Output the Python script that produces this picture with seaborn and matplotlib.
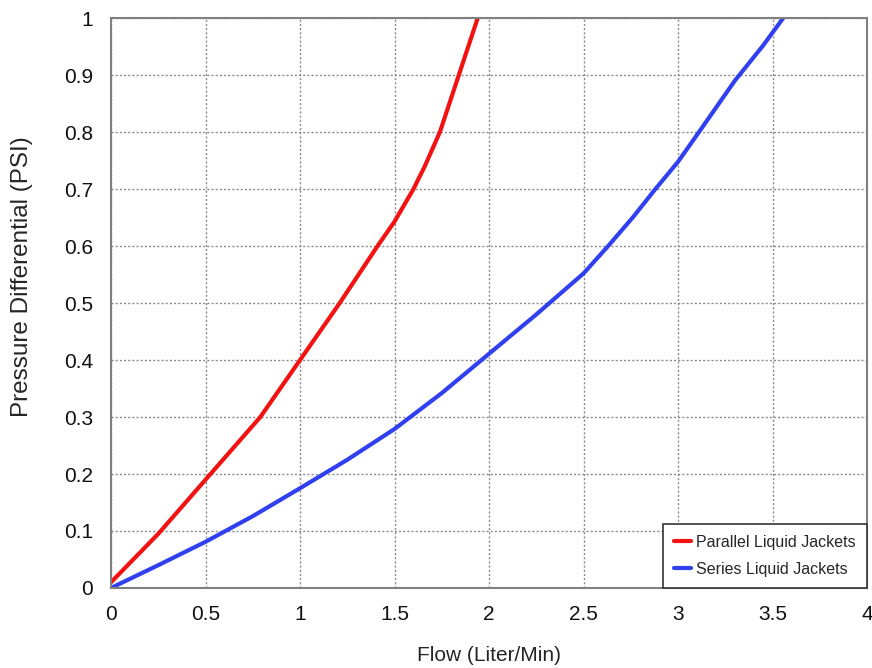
import pandas as pd
import numpy as np
import matplotlib
matplotlib.use("Agg")
import matplotlib.pyplot as plt
import seaborn as sns

# Valeurs
parallel_flow = [0.0, 0.25, 0.5, 0.79, 1.0, 1.21, 1.41, 1.5, 1.6, 1.66, 1.7, 1.74, 1.84, 1.94]
parallel_psi = [0.01, 0.095, 0.19, 0.30, 0.40, 0.50, 0.60, 0.643, 0.70, 0.74, 0.77, 0.80, 0.90, 1.0]

series_flow = [0.0, 0.25, 0.5, 0.75, 1.0, 1.25, 1.5, 1.75, 2.0, 2.25, 2.5, 2.63, 2.76, 2.88, 3.0, 3.1, 3.3, 3.45, 3.556]
series_psi = [0.0, 0.04, 0.081, 0.126, 0.175, 0.225, 0.279, 0.342, 0.411, 0.48, 0.552, 0.60, 0.65, 0.70, 0.748, 0.795, 0.89, 0.952, 1.0]

labels = ["Parallel Liquid Jackets", "Series Liquid Jackets"]
colors = ["#f21212", "#3040f0"]

x_ticks = [0, 0.5, 1, 1.5, 2, 2.5, 3, 3.5, 4]
y_ticks = [0, 0.1, 0.2, 0.3, 0.4, 0.5, 0.6, 0.7, 0.8, 0.9, 1]

df = pd.concat([
    pd.DataFrame({"Flow": parallel_flow, "PSI": parallel_psi, "Serie": labels[0]}),
    pd.DataFrame({"Flow": series_flow, "PSI": series_psi, "Serie": labels[1]}),
])

sns.set_style("white")
plt.rcParams["font.family"] = "Liberation Sans"

fig = plt.figure(figsize=(8.72, 6.68), dpi=100)
ax = fig.add_axes([0.1273, 0.1198, 0.867, 0.853])

sns.lineplot(data=df, x="Flow", y="PSI", hue="Serie", palette=dict(zip(labels, colors)),
             linewidth=3, sort=False, estimator=None, ax=ax)

ax.set_xlim(0, 4)
ax.set_ylim(0, 1)
ax.set_xticks(x_ticks)
ax.set_yticks(y_ticks)
ax.set_xticklabels([f"{t:g}" for t in x_ticks], fontsize=15)
ax.set_yticklabels([f"{t:g}" for t in y_ticks], fontsize=15)
ax.tick_params(axis="y", length=0, pad=13, colors="#111111")
ax.tick_params(axis="x", length=0, pad=12, colors="#111111")
ax.grid(True, linestyle=(0, (1.5, 1.5)), color="#8a8a8a", linewidth=1)

for s in ax.spines.values():
    s.set_color("#808080")
    s.set_linewidth(1.5)

ax.set_xlabel("Flow (Liter/Min)", fontsize=15, labelpad=16)
ax.set_ylabel("Pressure Differential (PSI)", fontsize=17.5)
ax.yaxis.set_label_coords(-0.103, 0.547)

leg = ax.legend(loc="lower right", fontsize=11.5, handlelength=1.1, handletextpad=0.3,
                fancybox=False, framealpha=1, borderaxespad=0, borderpad=0.7, labelspacing=0.75)
leg.get_frame().set_edgecolor("#333333")
leg.get_frame().set_linewidth(1.2)

fig.savefig("out.png", dpi=100)
